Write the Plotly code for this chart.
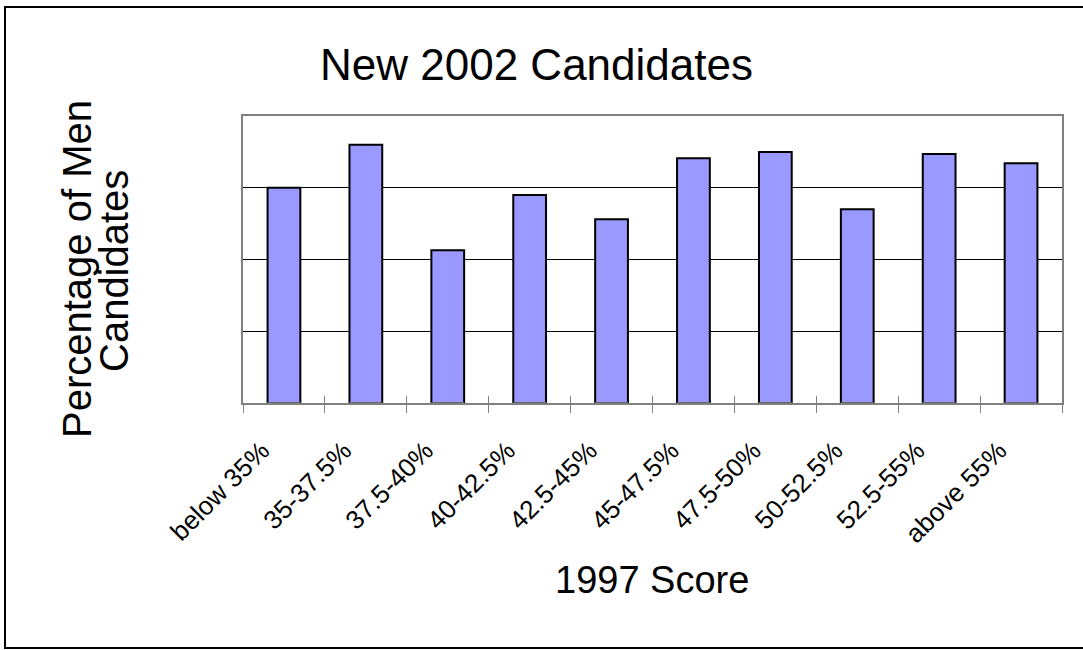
import plotly.graph_objects as go

categories = ["below 35%", "35-37.5%", "37.5-40%", "40-42.5%", "42.5-45%",
              "45-47.5%", "47.5-50%", "50-52.5%", "52.5-55%", "above 55%"]
values = [3.00, 3.60, 2.13, 2.90, 2.56, 3.41, 3.50, 2.70, 3.47, 3.34]

title_text = "New 2002 Candidates"
x_title = "1997 Score"
y_title_lines = ["Percentage of Men", "Candidates"]

W, H = 1083, 650
L, R, T, B = 243, 1062, 116, 403
FONT = "Liberation Sans, Arial, sans-serif"

def px(x):
    return (x - L) / (R - L)

def py(y):
    return (B - y) / (B - T)

fig = go.Figure()
fig.add_trace(go.Bar(
    x=categories, y=values,
    marker=dict(color="#9999FF", line=dict(color="black", width=2)),
    width=0.4,
))

fig.update_layout(
    width=W, height=H,
    margin=dict(l=L, r=W - R, t=T, b=H - B, pad=0),
    paper_bgcolor="white", plot_bgcolor="white",
    showlegend=False,
    font=dict(family=FONT, color="black"),
    xaxis=dict(
        type="category", categoryorder="array", categoryarray=categories,
        range=[-0.5, 9.5],
        tickson="boundaries", ticks="outside", ticklen=8, tickwidth=1,
        tickcolor="#808080",
        tickangle=-45, tickfont=dict(size=26, family=FONT, color="black"),
        ticklabelstandoff=20, ticklabelshift=-22,
        showline=True, linecolor="#808080", linewidth=2, mirror=True,
        showgrid=False, zeroline=False,
    ),
    xaxis2=dict(
        type="category", categoryorder="array", categoryarray=categories,
        range=[-0.5, 9.5], overlaying="x", side="bottom", matches="x",
        tickson="boundaries", ticks="inside", ticklen=7, tickwidth=1,
        tickcolor="#808080", showticklabels=False, showgrid=False,
        zeroline=False, showline=False,
    ),
    yaxis=dict(
        range=[0, 4], dtick=1, showticklabels=False, ticks="",
        showgrid=True, gridcolor="black", gridwidth=1,
        showline=True, linecolor="#808080", linewidth=2, mirror=True,
        zeroline=False,
    ),
    annotations=[
        dict(text=title_text, xref="paper", yref="paper",
             x=px(536), y=py(65), xanchor="center", yanchor="middle",
             showarrow=False, font=dict(size=44, family=FONT, color="black")),
        dict(text=y_title_lines[0], xref="paper", yref="paper",
             x=px(77), y=py(269), xanchor="center", yanchor="middle",
             textangle=-90, showarrow=False,
             font=dict(size=40, family=FONT, color="black")),
        dict(text=y_title_lines[1], xref="paper", yref="paper",
             x=px(114), y=py(271), xanchor="center", yanchor="middle",
             textangle=-90, showarrow=False,
             font=dict(size=40, family=FONT, color="black")),
        dict(text=x_title, xref="paper", yref="paper",
             x=px(652), y=py(580), xanchor="center", yanchor="middle",
             showarrow=False, font=dict(size=38, family=FONT, color="black")),
    ],
    shapes=[
        dict(type="rect", xref="paper", yref="paper",
             x0=px(5), x1=px(1095), y0=py(648), y1=py(7),
             line=dict(color="black", width=2), fillcolor="rgba(0,0,0,0)",
             layer="below"),
    ],
)

# invisible trace to activate the overlay axis (for crossing tick marks)
fig.add_trace(go.Bar(x=categories, y=[0] * len(categories), xaxis="x2",
                     marker=dict(color="rgba(0,0,0,0)"), hoverinfo="skip",
                     width=0.4, showlegend=False))

fig.write_html(
    "out.html",
    config={"displayModeBar": False},
    post_script="document.body.style.margin='0';document.body.style.padding='0';"
                "window.dispatchEvent(new Event('resize'));",
)
